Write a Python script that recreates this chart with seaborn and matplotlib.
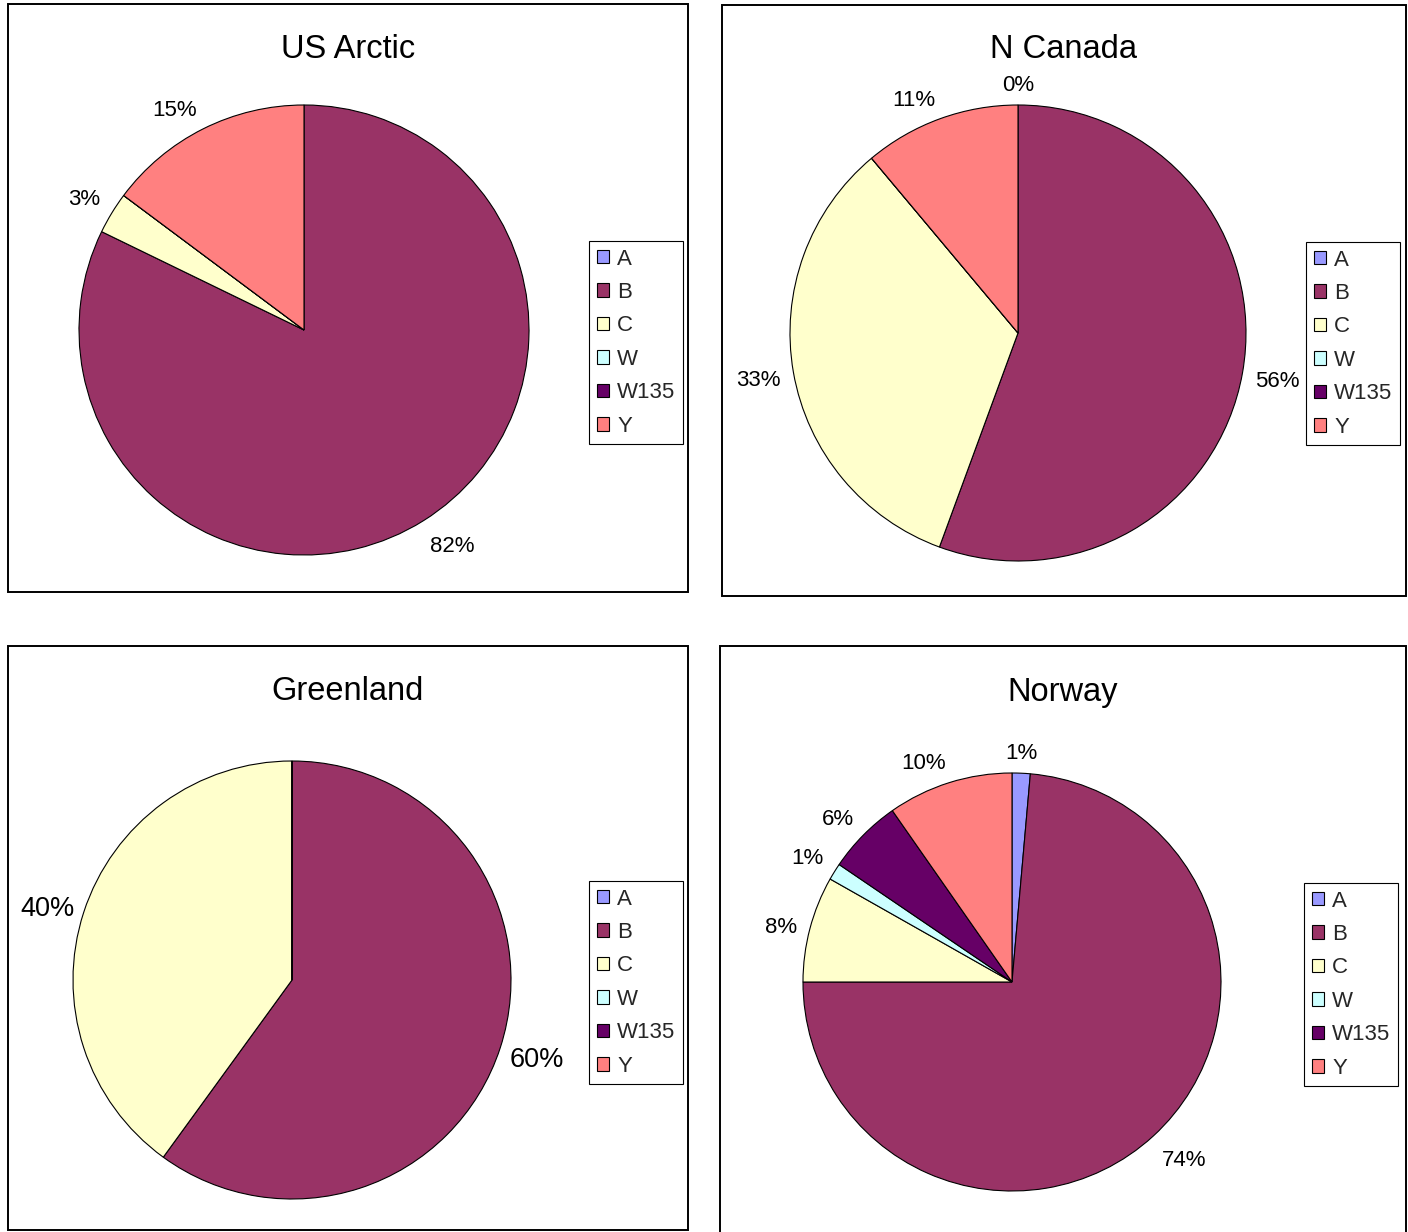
import matplotlib
matplotlib.use("Agg")
import numpy as np
import matplotlib.pyplot as plt
from matplotlib.patches import Rectangle
import seaborn as sns

sns.set_theme(style="white")
plt.rcParams["font.family"] = ["Liberation Sans", "DejaVu Sans"]

# Serogroup categories and share (%) per region; None = not reported
categories = ["A", "B", "C", "W", "W135", "Y"]
us_arctic = [None, 82.2, 3.0, None, None, 14.8]
n_canada = [0.0, 55.6, 33.3, None, None, 11.1]
greenland = [None, 60.0, 40.0, None, None, None]
norway = [1.4, 73.6, 8.2, 1.3, 5.8, 9.7]
titles = ["US Arctic", "N Canada", "Greenland", "Norway"]

palette = sns.color_palette(["#9999FF", "#993366", "#FFFFCC",
                             "#CCFFFF", "#660066", "#FF8080"])

W, H = 1408, 1232
DPI = 100
fig = plt.figure(figsize=(W / DPI, H / DPI), dpi=DPI)


def fx(px):
    return px / W


def fy(py):
    return 1 - py / H


# panel layout in pixels: frame box, pie centre/radius, title y, legend corner, label size
panels = [
    dict(data=us_arctic, box=(8, 4, 688, 592), c=(304, 330), r=225,
         ty=49, leg=(589, 240), fs=16, gap=13),
    dict(data=n_canada, box=(722, 5, 1406, 596), c=(1018, 333), r=228,
         ty=49, leg=(1306, 241), fs=16, gap=13),
    dict(data=greenland, box=(8, 646, 688, 1230), c=(292, 980), r=219,
         ty=691, leg=(589, 880), fs=19.5, gap=10),
    dict(data=norway, box=(720, 646, 1406, 1233), c=(1012, 982), r=209,
         ty=692, leg=(1304, 882), fs=16, gap=13),
]

drawn = []
for p, title in zip(panels, titles):
    x0, y0, x1, y1 = p["box"]
    fig.add_artist(Rectangle((fx(x0), fy(y1)), fx(x1 - x0), (y1 - y0) / H,
                             transform=fig.transFigure, fill=False,
                             edgecolor="black", linewidth=1.4))
    fig.text(fx((x0 + x1) / 2), fy(p["ty"]), title, ha="center",
             va="center", fontsize=23.5, color="black")

    cx, cy = p["c"]
    r = p["r"]
    ax = fig.add_axes([fx(cx - r), fy(cy + r), fx(2 * r), 2 * r / H])
    values = [0.0 if v is None else v for v in p["data"]]
    labels = ["" if v is None else f"{v:.0f}%" for v in p["data"]]
    wedges, texts = ax.pie(values, labels=labels, colors=palette,
                           startangle=90, counterclock=False,
                           labeldistance=1.1,
                           wedgeprops=dict(edgecolor="black", linewidth=0.8),
                           textprops=dict(fontsize=p["fs"], color="black"))
    ax.set_xlim(-1, 1)
    ax.set_ylim(-1, 1)
    ax.set_axis_off()

    lx, ly = p["leg"]
    leg = ax.legend(wedges, categories, loc="upper left",
                    bbox_to_anchor=(fx(lx), fy(ly + 1)),
                    bbox_transform=fig.transFigure, borderaxespad=0,
                    fontsize=16, frameon=True, fancybox=False,
                    handlelength=0.55, handleheight=0.55,
                    handletextpad=0.38, labelspacing=0.56, borderpad=0.34)
    frame = leg.get_frame()
    frame.set_edgecolor("black")
    frame.set_linewidth(0.8)
    frame.set_alpha(1)
    drawn.append((ax, p, wedges, texts))

# Percentage labels sit just outside the rim, the text box hugging the
# mid-angle ray of its slice.
renderer = fig.canvas.get_renderer()
for ax, p, wedges, texts in drawn:
    gap = p["gap"] / p["r"]
    fs_px = p["fs"] * DPI / 72
    for w, t in zip(wedges, texts):
        if not t.get_text():
            continue
        mid = np.deg2rad((w.theta1 + w.theta2) / 2)
        ux, uy = np.cos(mid), np.sin(mid)
        anchor = ax.transData.transform(((1 + gap) * ux, (1 + gap) * uy))
        hw = t.get_window_extent(renderer).width / 2
        hh = 0.4 * fs_px
        sx = np.sign(ux) * np.clip((abs(ux) - 0.05) / 0.2, 0, 1)
        sy = np.sign(uy) * np.clip((abs(uy) - 0.25) / 0.25, 0, 1)
        drop = 3.5 if uy < 0 else 0.0
        centre = anchor + np.array([hw * sx, hh * sy - drop - 0.358 * fs_px])
        t.set_position(ax.transData.inverted().transform(centre))
        t.set_horizontalalignment("center")
        t.set_verticalalignment("baseline")

fig.savefig("out.png", dpi=DPI, facecolor="white")
